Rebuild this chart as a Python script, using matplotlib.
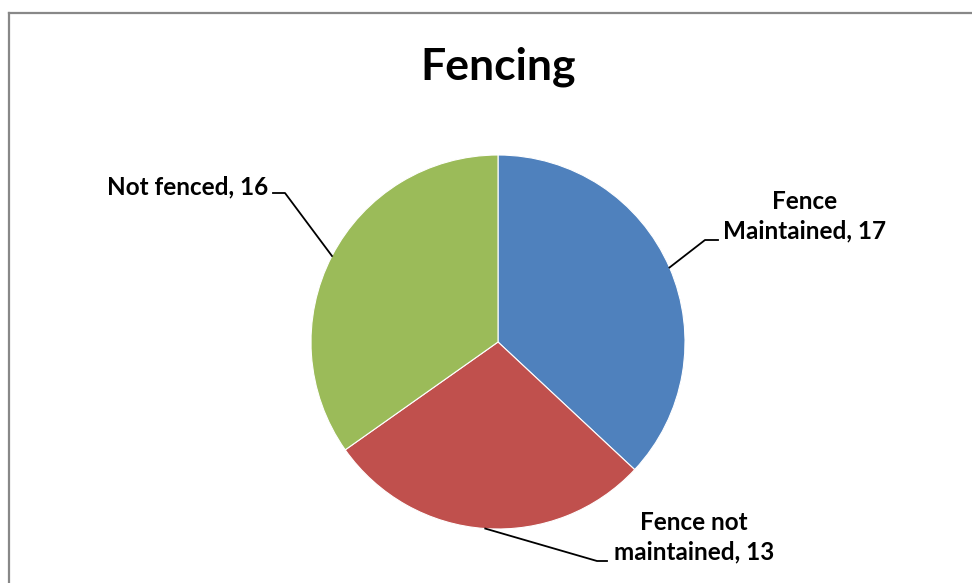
import numpy as np
import matplotlib
matplotlib.use("Agg")
import matplotlib.pyplot as plt
from matplotlib.lines import Line2D

categories = ["Fence\nMaintained", "Fence not\nmaintained", "Not fenced"]
values = [17, 13, 16]
colors = ["#4F81BD", "#C0504D", "#9BBB59"]
title = "Fencing"

W, H = 972, 583
fig = plt.figure(figsize=(W / 100, H / 100), dpi=100)
plt.rcParams['font.family'] = ['Lato', 'DejaVu Sans']

def fx(px):
    return px / W

def fy(py):
    return (H - py) / H

# border (top and left only, as in reference)
fig.add_artist(Line2D([fx(8.5), fx(W)], [fy(13), fy(13)], color="#888888", lw=1.6))
fig.add_artist(Line2D([fx(8.5), fx(8.5)], [fy(13), fy(H)], color="#888888", lw=1.6))

cx, cy, r = 498, 342, 187
ax = fig.add_axes([fx(cx - r), fy(cy + r), 2 * r / W, 2 * r / H])
wedges, _ = ax.pie(values, colors=colors, startangle=90, counterclock=False,
                   radius=1, wedgeprops=dict(edgecolor="white", linewidth=0.8))
ax.set_xlim(-1, 1)
ax.set_ylim(-1, 1)
ax.axis("off")

fig.text(fx(498), fy(67), title, ha="center", va="center",
         fontsize=32, fontweight="bold", color="black")

# label positions (pixel) and leader line bends
label_specs = [
    dict(xy=(805, 216), bend=[(705, 240), (718, 240)]),
    dict(xy=(694, 537), bend=[(597, 561), (607, 561)]),
    dict(xy=(188, 187), bend=[(285, 193), (273, 193)]),
]

total = sum(values)
start = 90.0
for v, cat, spec in zip(values, categories, label_specs):
    span = 360.0 * v / total
    mid = np.deg2rad(start - span / 2)
    start -= span
    ex = cx + r * np.cos(mid)
    ey = cy - r * np.sin(mid)
    pts = [(ex, ey)] + spec["bend"]
    fig.add_artist(Line2D([fx(p[0]) for p in pts], [fy(p[1]) for p in pts],
                          color="black", lw=1.3))
    fig.text(fx(spec["xy"][0]), fy(spec["xy"][1]), f"{cat}, {v}", ha="center",
             va="center", fontsize=17.5, fontweight="bold", color="black",
             linespacing=1.32, multialignment="center")

fig.savefig("out.png", dpi=100)
